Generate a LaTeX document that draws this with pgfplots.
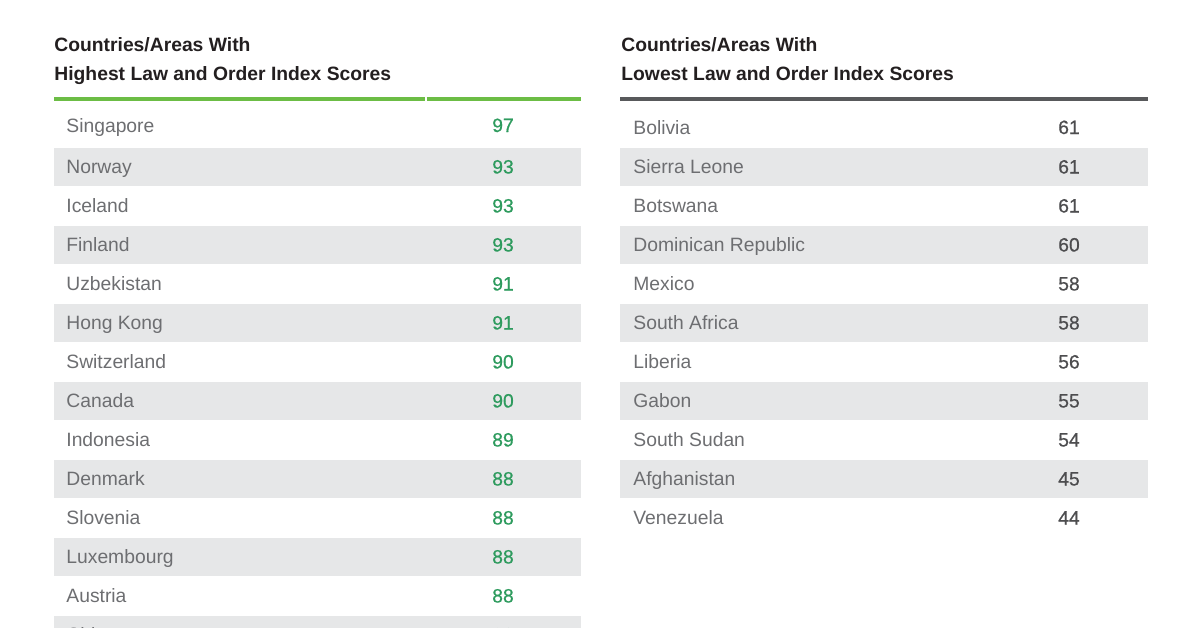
\documentclass[border=0pt]{standalone}
\usepackage{fontspec}
\setmainfont{Liberation Sans}
\newfontface\valfont{Liberation Sans}[FakeBold=0.6]
\usepackage{pgfplots}
\usepackage{pgfplotstable}
\pgfplotsset{compat=1.18}

\definecolor{rowgray}{HTML}{E6E7E8}
\definecolor{namegray}{HTML}{6D6E71}
\definecolor{hiGreen}{HTML}{6CBD45}
\definecolor{valGreen}{HTML}{2E9B5E}
\definecolor{valDark}{HTML}{4D4D4F}
\definecolor{ruleDark}{HTML}{58595B}
\definecolor{headDark}{HTML}{231F20}

% y = row centre in pixels from the top
\pgfplotstableread[col sep=comma]{
name,score,y
Singapore,97,125.5
Norway,93,167
Iceland,93,206
Finland,93,245
Uzbekistan,91,284
Hong Kong,91,323
Switzerland,90,362
Canada,90,401
Indonesia,89,440
Denmark,88,479
Slovenia,88,518
Luxembourg,88,557
Austria,88,596
China,88,635
}\hightable

\pgfplotstableread[col sep=comma]{
name,score,y
Bolivia,61,127.5
Sierra Leone,61,167
Botswana,61,206
Dominican Republic,60,245
Mexico,58,284
South Africa,58,323
Liberia,56,362
Gabon,55,401
South Sudan,54,440
Afghanistan,45,479
Venezuela,44,518
}\lowtable

\pgfplotstableread[col sep=comma]{
x,y,text
54,52,Countries/Areas With
54,80,Highest Law and Order Index Scores
621,52,Countries/Areas With
621,80,Lowest Law and Order Index Scores
}\headtable

\newcommand{\rowfont}{\fontsize{9.65bp}{11bp}\selectfont}

\begin{document}
\begin{tikzpicture}
\begin{axis}[
  width=600bp, height=314bp, scale only axis,
  xmin=0, xmax=1200, ymin=0, ymax=628,
  y dir=reverse,
  hide axis, clip=false,
  unbounded coords=jump,
]
% striped rows
\addplot[rowgray, line width=19bp, line cap=butt, mark=none] coordinates {
  (54,167)(581,167)(54,nan)
  (54,245)(581,245)(54,nan)
  (54,323)(581,323)(54,nan)
  (54,401)(581,401)(54,nan)
  (54,479)(581,479)(54,nan)
  (54,557)(581,557)(54,nan)
  (54,635)(581,635)
};
\addplot[rowgray, line width=19bp, line cap=butt, mark=none] coordinates {
  (620,167)(1148,167)(620,nan)
  (620,245)(1148,245)(620,nan)
  (620,323)(1148,323)(620,nan)
  (620,401)(1148,401)(620,nan)
  (620,479)(1148,479)
};
% header rules
\addplot[hiGreen, line width=2bp, line cap=butt, mark=none] coordinates {
  (54,99.5)(424.5,99.5)(54,nan)(426.5,99.5)(581,99.5)
};
\addplot[ruleDark, line width=2bp, line cap=butt, mark=none] coordinates {
  (620,99.5)(1148,99.5)
};
% headers
\addplot[draw=none, mark=none, nodes near coords, point meta=explicit symbolic,
  every node near coord/.append style={anchor=base west, inner sep=0pt,
    text=headDark, font=\rowfont\bfseries}]
  table[x=x, y=y, meta=text] {\headtable};
% names and scores
\addplot[draw=none, mark=none, nodes near coords, point meta=explicit symbolic,
  every node near coord/.append style={anchor=base west, inner sep=0pt,
    text=namegray, font=\rowfont}]
  table[x expr=66, y expr=\thisrow{y}+6.5, meta=name] {\hightable};
\addplot[draw=none, mark=none, nodes near coords, point meta=explicit symbolic,
  every node near coord/.append style={anchor=base, inner sep=0pt,
    text=valGreen, font=\rowfont\valfont}]
  table[x expr=503, y expr=\thisrow{y}+6.5, meta=score] {\hightable};
\addplot[draw=none, mark=none, nodes near coords, point meta=explicit symbolic,
  every node near coord/.append style={anchor=base west, inner sep=0pt,
    text=namegray, font=\rowfont}]
  table[x expr=633, y expr=\thisrow{y}+6.5, meta=name] {\lowtable};
\addplot[draw=none, mark=none, nodes near coords, point meta=explicit symbolic,
  every node near coord/.append style={anchor=base, inner sep=0pt,
    text=valDark, font=\rowfont\valfont}]
  table[x expr=1069, y expr=\thisrow{y}+6.5, meta=score] {\lowtable};
\end{axis}
\pgfresetboundingbox
\path[use as bounding box] (current axis.south west) rectangle (current axis.north east);
\end{tikzpicture}
\end{document}
